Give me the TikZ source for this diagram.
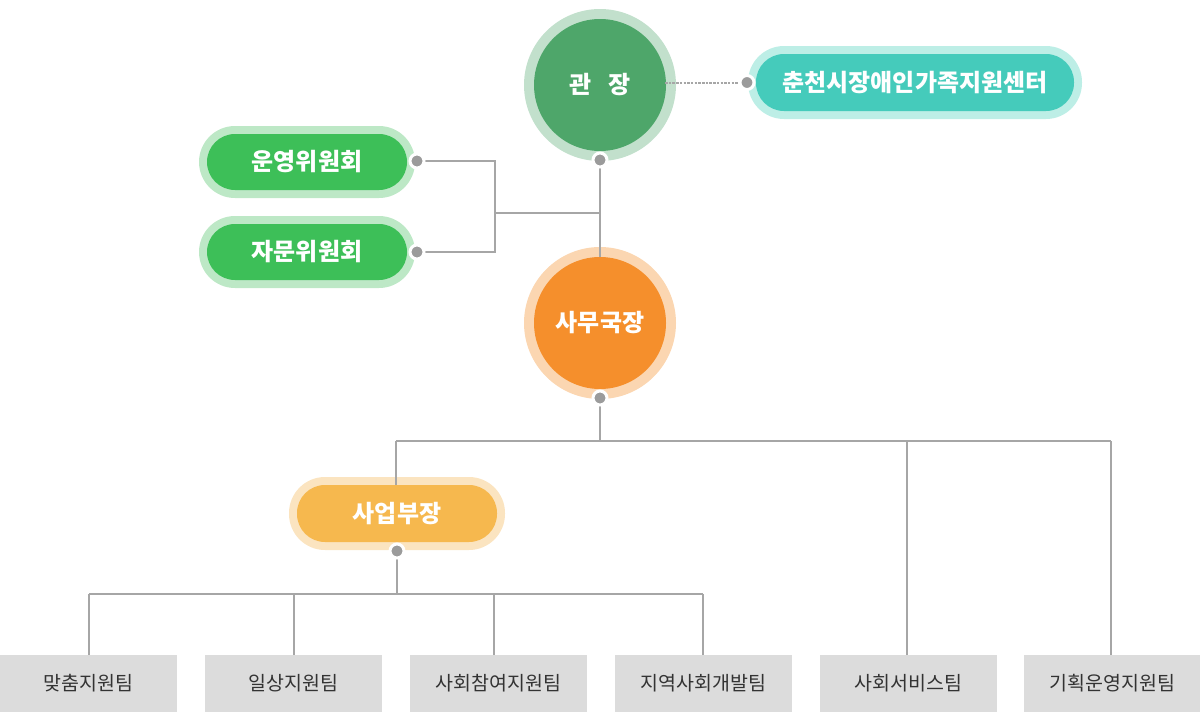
\documentclass[tikz,border=0pt]{standalone}
\usepackage{fontspec}
\setmainfont{Noto Sans CJK KR}
\begin{document}
\begin{tikzpicture}[x=1pt,y=-1pt]
\definecolor{gzin}{HTML}{4EA66A}\definecolor{gzring}{HTML}{C2E0CC}
\definecolor{tlin}{HTML}{45CBBB}\definecolor{tlring}{HTML}{BDEEE6}
\definecolor{grin}{HTML}{3DBF58}\definecolor{grring}{HTML}{BDE8C6}
\definecolor{orin}{HTML}{F58F2C}\definecolor{orring}{HTML}{FBD6B1}
\definecolor{yein}{HTML}{F6B84E}\definecolor{yering}{HTML}{FBE4C0}
\definecolor{lncol}{HTML}{A6A6A6}\definecolor{dotcol}{HTML}{9B9B9B}
\definecolor{boxcol}{HTML}{DCDCDC}\definecolor{boxtxt}{HTML}{333333}
\tikzset{
  ring/.style={circle,fill=#1,minimum size=152pt,inner sep=0pt},
  core/.style={circle,fill=#1,minimum size=132pt,inner sep=0pt,text=white,font=\bfseries\fontsize{24}{26}\selectfont},
  pillring/.style={rounded corners=36pt,fill=#1,inner sep=0pt},
  pill/.style={rounded corners=28pt,fill=#1,inner sep=0pt,text=white,font=\bfseries\fontsize{24}{26}\selectfont},
  dotnode/.style={circle,fill=dotcol,draw=white,line width=3pt,minimum size=14pt,inner sep=0pt},
  conn/.style={draw=lncol,line width=1.4pt},
  teambox/.style={fill=boxcol,minimum width=177pt,minimum height=57pt,inner sep=0pt,text=boxtxt,font=\fontsize{19.5}{22}\selectfont},
}
\useasboundingbox (0,0) rectangle (1200,712);
% Director
\node[ring=gzring] (gzr) at (600,85) {};
\node[core=gzin] (gz) at (600,85) {관\hspace{17pt}장};
% Family centre
\node[pillring=tlring,minimum width=334pt,minimum height=73pt] (fcr) at (915,82.5) {};
\node[pill=tlin,minimum width=318pt,minimum height=57pt] (fc) at (915,82.5) {춘천시장애인가족지원센터};
% Committees
\node[pillring=grring,minimum width=216pt,minimum height=72pt] (c1r) at (307,162) {};
\node[pill=grin,minimum width=200pt,minimum height=56pt] (c1) at (307,162) {운영위원회};
\node[pillring=grring,minimum width=216pt,minimum height=72pt] (c2r) at (307,252) {};
\node[pill=grin,minimum width=200pt,minimum height=56pt] (c2) at (307,252) {자문위원회};
% Secretary general
\node[ring=orring] (sgr) at (600,323) {};
\node[core=orin] (sg) at (600,323) {사무국장};
% Business manager
\node[pillring=yering,minimum width=216pt,minimum height=73pt] (bmr) at (397,513.5) {};
\node[pill=yein,minimum width=200pt,minimum height=57pt] (bm) at (397,513.5) {사업부장};
% Teams
\node[teambox] (t1) at (88.5,683.5) {맞춤지원팀};
\node[teambox] (t2) at (293.5,683.5) {일상지원팀};
\node[teambox] (t3) at (498.5,683.5) {사회참여지원팀};
\node[teambox] (t4) at (703.5,683.5) {지역사회개발팀};
\node[teambox] (t5) at (908.5,683.5) {사회서비스팀};
\node[teambox] (t6) at (1112.5,683.5) {기획운영지원팀};
% junctions
\coordinate (jc) at (495,213);
\coordinate (jv) at (600,213);
\coordinate (jb) at (600,441);
\coordinate (jt) at (397,594);
\coordinate (gzE) at (665,83);
% connectors (behind dots)
\draw[lncol,line width=1.4pt,dash pattern=on 2.5pt off 1.2pt] (gzE) -- (740,83);
\draw[conn] (600,166) -- (sg.north);
\draw[conn] (417,161) -| (jc) |- (417,252);
\draw[conn] (jc) -- (jv);
\draw[conn] (600,404) -- (jb);
\draw[conn] (396,441) -- (1111,441);
\draw[conn] (396,441) -- (bm.north -| 396,0);
\draw[conn] (907,441) -- (t5.north -| 907,0);
\draw[conn] (1111,441) -- (t6.north -| 1111,0);
\draw[conn] (397,557) -- (jt);
\draw[conn] (89,594) -- (703,594);
\draw[conn] (89,594) -- (t1.north -| 89,0);
\draw[conn] (294,594) -- (t2.north -| 294,0);
\draw[conn] (494,594) -- (t3.north -| 494,0);
\draw[conn] (703,594) -- (t4.north -| 703,0);
% dots
\node[dotnode] (dgz) at (600,160) {};
\node[dotnode] (dfc) at (747,82.5) {};
\node[dotnode] (dc1) at (417,161) {};
\node[dotnode] (dc2) at (417,252) {};
\node[dotnode] (dsg) at (600,398) {};
\node[dotnode] (dbm) at (397,551) {};
\end{tikzpicture}
\end{document}
